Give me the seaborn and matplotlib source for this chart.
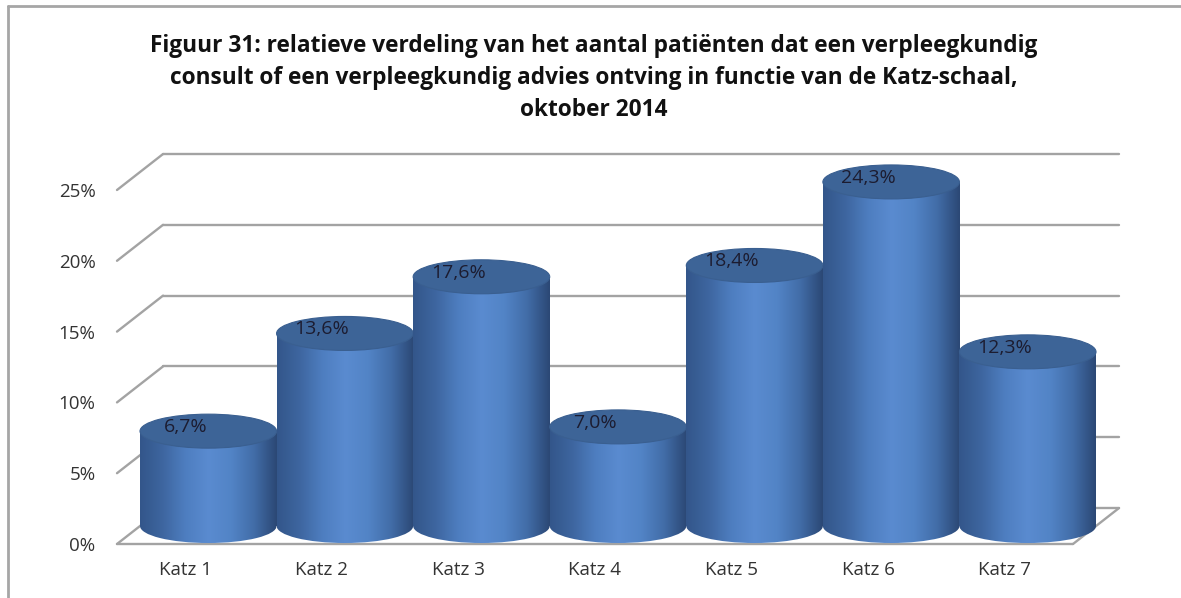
import numpy as np
import pandas as pd
import matplotlib
matplotlib.use("Agg")
import matplotlib.pyplot as plt
from matplotlib.colors import LinearSegmentedColormap
from matplotlib.patches import Ellipse
from matplotlib.lines import Line2D
import seaborn as sns

categories = ["Katz 1", "Katz 2", "Katz 3", "Katz 4", "Katz 5", "Katz 6", "Katz 7"]
values = [6.7, 13.6, 17.6, 7.0, 18.4, 24.3, 12.3]
value_labels = ["6,7%", "13,6%", "17,6%", "7,0%", "18,4%", "24,3%", "12,3%"]
y_ticks = [0, 5, 10, 15, 20, 25]
title = ("Figuur 31: relatieve verdeling van het aantal patiënten dat een verpleegkundig\n"
         "consult of een verpleegkundig advies ontving in functie van de Katz-schaal,\n"
         "oktober 2014")

sns.set_theme(style="white")
plt.rcParams["font.family"] = ["Open Sans", "DejaVu Sans"]

df = pd.DataFrame({"cat": categories, "val": values})

# depth of the fake 3d box, in data units
DX, DY = 0.337, 2.54
XMAX, YMAX = 6.9, 28.1
px_x = 956 / 7      # pixels per category
px_y = 354 / 25     # pixels per percent

fig = plt.figure(figsize=(11.81, 5.98), dpi=100)
ax = fig.add_axes([117 / 1181, 54 / 598, (XMAX + 0.5) * px_x / 1181, YMAX * px_y / 598])

grid_col = "#a3a3a3"

# back wall grid + left diagonals
for t in y_ticks:
    ax.plot([-0.5 + DX, 6.5 + DX], [t + DY, t + DY], color=grid_col, lw=1.7, clip_on=False, zorder=1)
    ax.plot([-0.5, -0.5 + DX], [t, t + DY], color=grid_col, lw=1.7, clip_on=False, zorder=1)
# floor
ax.plot([-0.5, 6.5], [0, 0], color=grid_col, lw=1.7, clip_on=False, zorder=1)
ax.plot([6.5, 6.5 + DX], [0, DY], color=grid_col, lw=1.7, clip_on=False, zorder=1)

sns.barplot(data=df, x="cat", y="val", width=1.0, ax=ax, color="#4f81bd", zorder=2)

body_cmap = LinearSegmentedColormap.from_list(
    "cyl", ["#33568a", "#3e66a0", "#4e7ec0", "#5a8bd0", "#5284c6", "#426da8", "#2b4875"])
grad = np.linspace(0, 1, 256).reshape(1, -1)
ell_h = 2.4

for i, (bar, v) in enumerate(zip(ax.patches, values)):
    z = 3 + i
    x0 = bar.get_x() + DX / 2
    w = bar.get_width()
    bar.set_x(x0)
    bar.set_y(DY / 2)
    bar.set_zorder(z)
    bar.set_edgecolor("none")
    cx = x0 + w / 2
    # body gradient
    im = ax.imshow(grad, cmap=body_cmap, aspect="auto", zorder=z + 0.01,
                   extent=[x0, x0 + w, DY / 2, DY / 2 + v])
    im.set_clip_path(bar)
    # bottom of cylinder
    bottom = Ellipse((cx, DY / 2), w, ell_h, facecolor="none", edgecolor="none", zorder=z)
    ax.add_patch(bottom)
    im2 = ax.imshow(grad, cmap=body_cmap, aspect="auto", zorder=z + 0.01,
                    extent=[x0, x0 + w, DY / 2 - ell_h / 2, DY / 2])
    im2.set_clip_path(bottom)
    # top of cylinder
    top = Ellipse((cx, DY / 2 + v), w, ell_h, facecolor="#3d6497", edgecolor="#3a5f90",
                  lw=0.8, zorder=z + 0.05)
    ax.add_patch(top)
    ax.annotate(value_labels[i], (i, v), xytext=(0, 16), textcoords="offset points",
                ha="center", va="center", fontsize=14, color="#1c1c30", zorder=30)

ax.set_xlim(-0.5, XMAX)
ax.set_ylim(0, YMAX)
for s in ax.spines.values():
    s.set_visible(False)
ax.set_yticks(y_ticks)
ax.set_yticklabels([f"{t}%" for t in y_ticks])
ax.set_xticks(range(len(categories)))
ax.set_xticklabels(categories)
ax.tick_params(axis="y", length=0, pad=15.5, labelsize=13.5, labelcolor="#333333")
ax.tick_params(axis="x", length=0, pad=12, labelsize=13.5, labelcolor="#333333")
ax.set_xlabel("")
ax.set_ylabel("")
ax.grid(False)

fig.text(594 / 1181, 1 - 78 / 598, title, ha="center", va="center", fontsize=16.3,
         fontweight="bold", color="#111111", linespacing=1.42)

# outer frame (top and left)
fig.add_artist(Line2D([8 / 1181, 1], [1 - 6 / 598, 1 - 6 / 598], color="#a6a6a6", lw=2))
fig.add_artist(Line2D([8 / 1181, 8 / 1181], [0, 1 - 6 / 598], color="#a6a6a6", lw=2))

fig.savefig("out.png", dpi=100)
